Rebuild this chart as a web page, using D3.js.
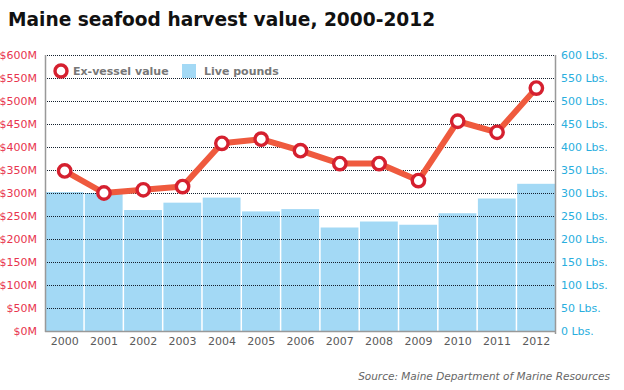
<!DOCTYPE html>
<html>
<head>
<meta charset="utf-8">
<script src="https://cdn.jsdelivr.net/npm/d3@7"></script>
<style>
  body { margin: 0; background: #fff; }
  svg { font-family: Verdana, "DejaVu Sans", sans-serif; }
</style>
</head>
<body>
<svg id="canvas" width="624" height="390"></svg>
<script>
var years = ["2000", "2001", "2002", "2003", "2004", "2005", "2006", "2007", "2008", "2009", "2010", "2011", "2012"];
// ex-vessel value, millions of dollars
var valueM = [348, 300, 307, 314, 408, 417, 392, 364, 364, 327, 456, 432, 528];
// live pounds (millions)
var pounds = [302, 300, 263, 279, 290, 260, 265, 225, 238, 231, 256, 288, 320];
var leftTicks = [0, 50, 100, 150, 200, 250, 300, 350, 400, 450, 500, 550, 600];

var margin = {top: 55, right: 68, bottom: 59, left: 45};
var width = 624 - margin.left - margin.right;
var height = 390 - margin.top - margin.bottom;

var svg = d3.select("#canvas");
var g = svg.append("g").attr("transform", "translate(" + margin.left + "," + margin.top + ")");

var x = d3.scaleBand().domain(years).range([0, width]).padding(0);
var yL = d3.scaleLinear().domain([0, 600]).range([height, 0]);
var yR = d3.scaleLinear().domain([0, 600]).range([height, 0]);

// title
svg.append("text").text("Maine seafood harvest value, 2000-2012")
  .attr("x", 8).attr("y", 26)
  .style("font-size", "18.6px").style("font-weight", "bold").style("fill", "#111");

// bars
g.selectAll(".bar").data(pounds).enter().append("rect")
  .attr("class", "bar")
  .attr("x", function(d, i) { return x(years[i]) + 0.5; })
  .attr("y", function(d) { return yR(d); })
  .attr("width", x.bandwidth() - 1.5)
  .attr("height", function(d) { return height - yR(d); })
  .style("fill", "#a3d9f5");

// gridlines
g.selectAll(".grid").data(leftTicks.slice(1)).enter().append("line")
  .attr("x1", 0).attr("x2", width)
  .attr("y1", function(d) { return Math.round(yL(d)) + 0.5; })
  .attr("y2", function(d) { return Math.round(yL(d)) + 0.5; })
  .style("stroke", "#14202e").style("stroke-dasharray", "1,1").style("stroke-width", 1);

// left axis
var leftAxis = d3.axisLeft(yL).tickValues(leftTicks).tickSize(0).tickPadding(8)
  .tickFormat(function(d) { return "$" + d + "M"; });
var la = g.append("g").call(leftAxis);
la.select(".domain").remove();
la.selectAll("text").style("fill", "#e8344e").style("font-size", "11px").style("font-family", "Verdana, 'DejaVu Sans', sans-serif");

// right axis
var rightAxis = d3.axisRight(yR).tickValues(leftTicks).tickSize(0).tickPadding(5)
  .tickFormat(function(d) { return d + " Lbs."; });
var ra = g.append("g").attr("transform", "translate(" + width + ",0)").call(rightAxis);
ra.select(".domain").remove();
ra.selectAll("text").style("fill", "#29aede").style("font-size", "11px").style("font-family", "Verdana, 'DejaVu Sans', sans-serif");

// bottom axis
var xAxis = d3.axisBottom(x).tickSize(0).tickPadding(6);
var xa = g.append("g").attr("transform", "translate(0," + height + ")").call(xAxis);
xa.select(".domain").remove();
xa.selectAll("text").style("fill", "#5a5a5a").style("font-size", "11px").style("font-family", "Verdana, 'DejaVu Sans', sans-serif");

// frame lines
g.append("line").attr("x1", 0.5).attr("x2", 0.5).attr("y1", 0).attr("y2", height + 1)
  .style("stroke", "#999").style("stroke-width", 1.5);
g.append("line").attr("x1", width - 0.5).attr("x2", width - 0.5).attr("y1", 0).attr("y2", height + 3)
  .style("stroke", "#999").style("stroke-width", 1.5);
g.append("line").attr("x1", 0).attr("x2", width).attr("y1", height + 0.5).attr("y2", height + 0.5)
  .style("stroke", "#999").style("stroke-width", 1.5);

// line
var line = d3.line()
  .x(function(d, i) { return x(years[i]) + x.bandwidth() / 2; })
  .y(function(d) { return yL(d); });
g.append("path").datum(valueM).attr("d", line)
  .style("fill", "none").style("stroke", "#ef5a3e").style("stroke-width", 6).style("stroke-linejoin", "round");

g.selectAll(".pt").data(valueM).enter().append("circle")
  .attr("cx", function(d, i) { return x(years[i]) + x.bandwidth() / 2; })
  .attr("cy", function(d) { return yL(d); })
  .attr("r", 6.2)
  .style("fill", "#fff").style("stroke", "#d5202f").style("stroke-width", 3.4);

// legend
var lg = svg.append("g");
lg.append("circle").attr("cx", 61).attr("cy", 71).attr("r", 6)
  .style("fill", "#fff").style("stroke", "#d5202f").style("stroke-width", 3.4);
lg.append("text").text("Ex-vessel value").attr("x", 73).attr("y", 75)
  .style("font-size", "11px").style("font-weight", "bold").style("fill", "#777");
lg.append("rect").attr("x", 182).attr("y", 64).attr("width", 14).attr("height", 14)
  .style("fill", "#a3d9f5");
lg.append("text").text("Live pounds").attr("x", 204).attr("y", 75)
  .style("font-size", "11px").style("font-weight", "bold").style("fill", "#777");

// source
svg.append("text").text("Source: Maine Department of Marine Resources")
  .attr("x", 610).attr("y", 380).attr("text-anchor", "end")
  .style("font-size", "10.5px").style("font-style", "italic").style("fill", "#666");
</script>
</body>
</html>
